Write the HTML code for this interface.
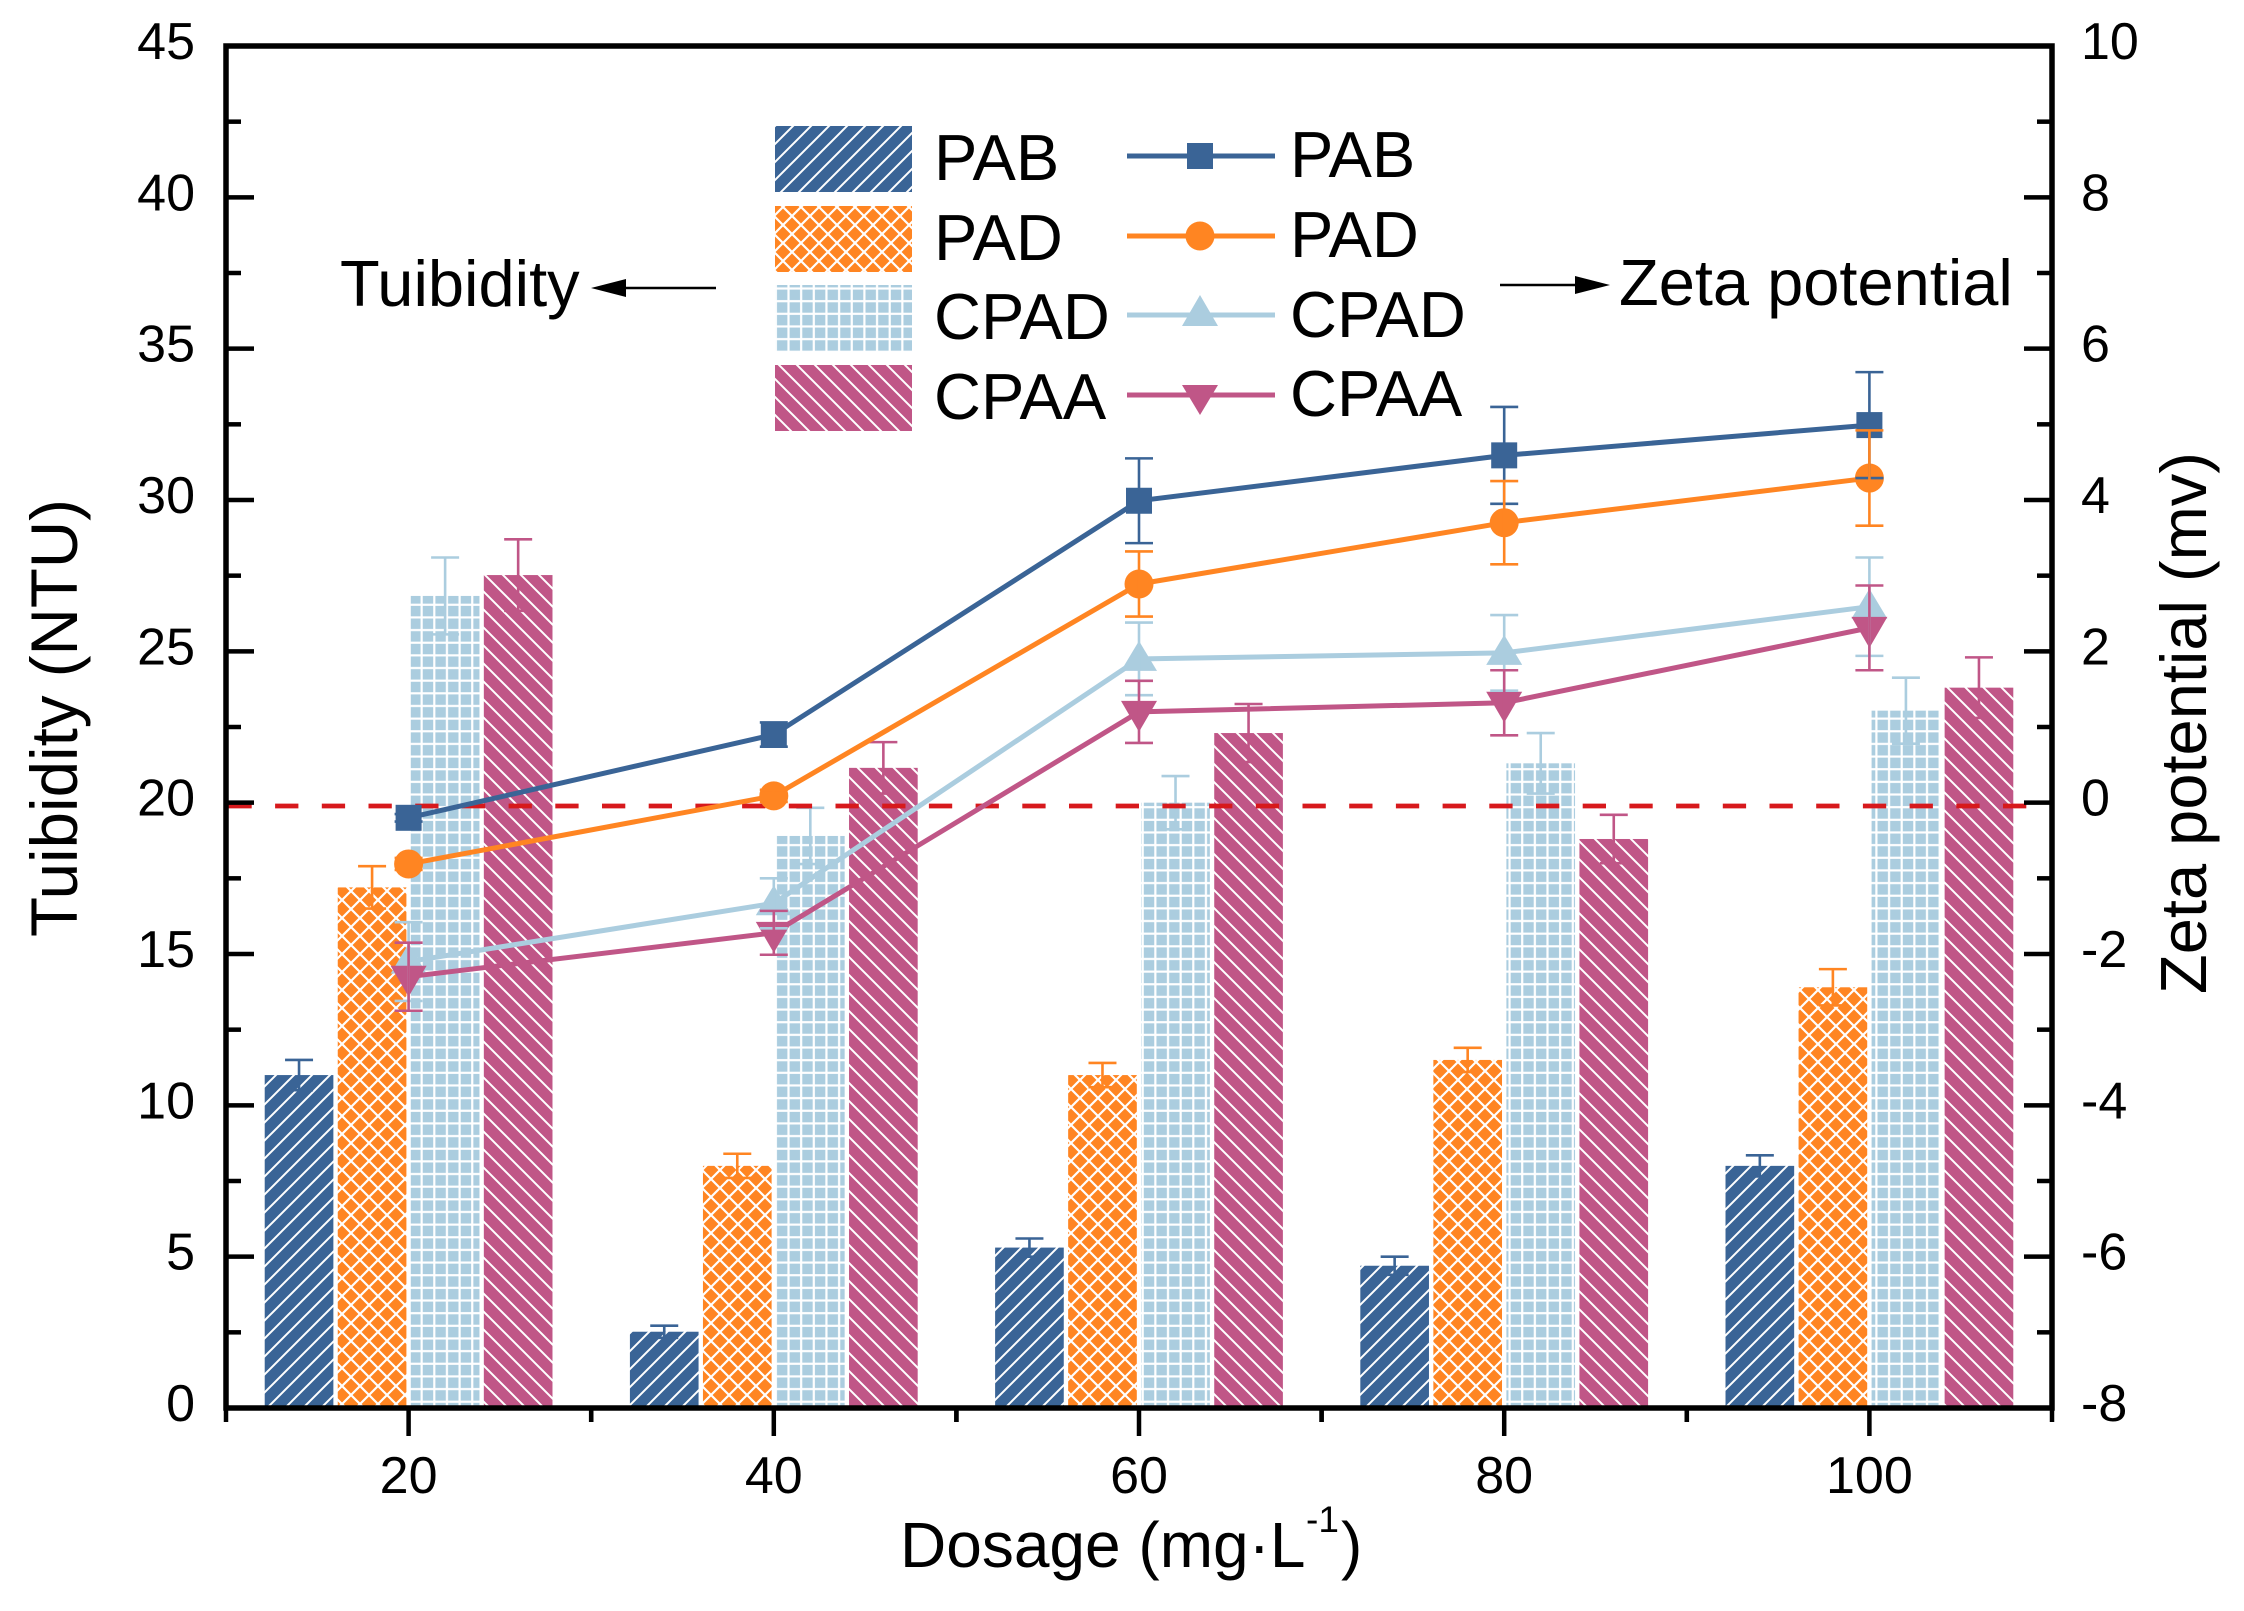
<!DOCTYPE html>
<html lang="en">
<head>
<meta charset="utf-8">
<title>Tuibidity and Zeta potential vs Dosage</title>
<style>
html,body{margin:0;padding:0;background:#fff;}
svg{display:block;font-family:"Liberation Sans",Arial,sans-serif;fill:#000;}
</style>
</head>
<body>
<svg id="chart" xmlns="http://www.w3.org/2000/svg" width="2244" height="1611" viewBox="0 0 2244 1611">
  <defs>
    <pattern id="hatch-pab" patternUnits="userSpaceOnUse" width="18" height="18" patternTransform="translate(1 0)">
      <rect width="18" height="18" fill="#3A6496"/>
      <path d="M-2 20L20 -2M-2 2L2 -2M16 20L20 16" stroke="#fff" stroke-width="2"/>
    </pattern>
    <pattern id="hatch-pad" patternUnits="userSpaceOnUse" width="18" height="18">
      <rect width="18" height="18" fill="#FF8522"/>
      <path d="M-2 20L20 -2M-2 -2L20 20" stroke="#fff" stroke-width="2.2"/>
    </pattern>
    <pattern id="hatch-cpad" patternUnits="userSpaceOnUse" width="12.65" height="12.65" patternTransform="translate(3 9)">
      <rect width="12.65" height="12.65" fill="#ABCDDF"/>
      <path d="M0 1.2H12.65M1.2 0V12.65" stroke="#fff" stroke-width="2.2"/>
    </pattern>
    <pattern id="hatch-cpaa" patternUnits="userSpaceOnUse" width="18" height="18">
      <rect width="18" height="18" fill="#C05687"/>
      <path d="M-2 -2L20 20M16 -2L20 2M-2 16L2 20" stroke="#fff" stroke-width="2"/>
    </pattern>
  </defs>

  <g id="bars"></g>
  <line x1="228.4" x2="2050" y1="806" y2="806" stroke="#D7191C" stroke-width="4.7" stroke-dasharray="23.3 23.4"/>
  <g id="lines"></g>
  <g id="axes"></g>

  <text transform="translate(77 718) rotate(-90)" text-anchor="middle" font-size="65.5">Tuibidity (NTU)</text>
  <text transform="translate(2206 723) rotate(-90)" text-anchor="middle" font-size="65">Zeta potential (mv)</text>
  <text x="900" y="1567" font-size="64">Dosage (mg·L<tspan x="1306" y="1532" font-size="37">-1</tspan><tspan x="1341" y="1567">)</tspan></text>

  <text x="340" y="306" font-size="65">Tuibidity</text>
  <g>
    <line x1="716" x2="620" y1="288" y2="288" stroke="#000" stroke-width="2.5"/>
    <path d="M591 288L626 279V297Z" fill="#000"/>
  </g>
  <text x="1619" y="305" font-size="65">Zeta potential</text>
  <g>
    <line x1="1500" x2="1580" y1="285" y2="285" stroke="#000" stroke-width="2.5"/>
    <path d="M1610 285L1575 276V294Z" fill="#000"/>
  </g>

  <g font-size="65">
    <g>
      <rect x="775" y="126" width="137" height="66" fill="url(#hatch-pab)"/>
      <text x="934" y="180">PAB</text>
    </g>
    <g>
      <rect x="775" y="206" width="137" height="66" fill="url(#hatch-pad)"/>
      <text x="934" y="260">PAD</text>
    </g>
    <g>
      <rect x="775" y="285" width="137" height="67" fill="url(#hatch-cpad)"/>
      <text x="934" y="339">CPAD</text>
    </g>
    <g>
      <rect x="775" y="365" width="137" height="66" fill="url(#hatch-cpaa)"/>
      <text x="934" y="419">CPAA</text>
    </g>
    <g>
      <line x1="1127" x2="1275" y1="156" y2="156" stroke="#3A6496" stroke-width="5"/>
      <rect x="1187" y="143" width="26" height="26" fill="#3A6496"/>
      <text x="1290" y="177">PAB</text>
    </g>
    <g>
      <line x1="1127" x2="1275" y1="236" y2="236" stroke="#FF8522" stroke-width="5"/>
      <circle cx="1200" cy="236" r="14.5" fill="#FF8522"/>
      <text x="1290" y="257">PAD</text>
    </g>
    <g>
      <line x1="1127" x2="1275" y1="315" y2="315" stroke="#ABCDDF" stroke-width="5"/>
      <path d="M1200 295L1218 326H1182Z" fill="#ABCDDF"/>
      <text x="1290" y="337">CPAD</text>
    </g>
    <g>
      <line x1="1127" x2="1275" y1="395" y2="395" stroke="#C05687" stroke-width="5"/>
      <path d="M1200 415L1218 385H1182Z" fill="#C05687"/>
      <text x="1290" y="416">CPAA</text>
    </g>
  </g>
</svg>

<script>
// Chart data
const dosages = [20, 40, 60, 80, 100];
const leftTicks = [0, 5, 10, 15, 20, 25, 30, 35, 40, 45];
const rightTicks = [-8, -6, -4, -2, 0, 2, 4, 6, 8, 10];

const barPAB = [11.0, 2.52, 5.3, 4.7, 8.0];
const barPAD = [17.2, 8.0, 11.0, 11.5, 13.9];
const barCPAD = [26.83, 18.9, 20.0, 21.3, 23.04];
const barCPAA = [27.52, 21.15, 22.3, 18.8, 23.8];

const barErrPAB = [0.5, 0.2, 0.3, 0.3, 0.35];
const barErrPAD = [0.7, 0.4, 0.4, 0.4, 0.6];
const barErrCPAD = [1.27, 0.93, 0.88, 1.0, 1.09];
const barErrCPAA = [1.18, 0.85, 0.96, 0.8, 1.0];

const linePAB = [-0.20, 0.90, 3.99, 4.59, 4.99];
const linePAD = [-0.81, 0.09, 2.89, 3.70, 4.29];
const lineCPAD = [-2.10, -1.33, 1.90, 1.98, 2.59];
const lineCPAA = [-2.30, -1.72, 1.20, 1.32, 2.31];

const lineErrPAB = [0.05, 0.16, 0.56, 0.64, 0.70];
const lineErrPAD = [0.08, 0.08, 0.43, 0.55, 0.63];
const lineErrCPAD = [0.52, 0.33, 0.48, 0.50, 0.65];
const lineErrCPAA = [0.45, 0.29, 0.41, 0.43, 0.56];

// Axis functions
const plotLeft = 226, plotRight = 2052, plotTop = 46, plotBottom = 1408;
function xScale(v) { return plotLeft + (v - 10) / 100 * (plotRight - plotLeft); }
function yLeft(v) { return plotBottom - v / 45 * (plotBottom - plotTop); }
function yRight(v) { return plotBottom - (v + 8) / 18 * (plotBottom - plotTop); }
function dUnits(u) { return u / 100 * (plotRight - plotLeft); }

const NS = 'http://www.w3.org/2000/svg';
function make(tag, attrs, parent) {
  const n = document.createElementNS(NS, tag);
  for (const k in attrs) n.setAttribute(k, attrs[k]);
  parent.appendChild(n);
  return n;
}

// Bars
const barsG = document.getElementById('bars');
const barColors = ['#3A6496', '#FF8522', '#ABCDDF', '#C05687'];
const barFills = ['url(#hatch-pab)', 'url(#hatch-pad)', 'url(#hatch-cpad)', 'url(#hatch-cpaa)'];
const barValues = [barPAB, barPAD, barCPAD, barCPAA];
const barErrors = [barErrPAB, barErrPAD, barErrCPAD, barErrCPAA];
const barOffsets = [-6, -2, 2, 6];
barValues.forEach(function (vals, s) {
  vals.forEach(function (v, i) {
    const cx = xScale(dosages[i] + barOffsets[s]);
    const w = dUnits(3.76);
    const top = yLeft(v);
    const bar = make('rect', { x: cx - w / 2, y: top, width: w, height: yLeft(0) - top - 2, fill: barFills[s] }, barsG);
    
    
    const errTop = yLeft(v + barErrors[s][i]);
    const errLow = yLeft(v - barErrors[s][i]);
    const eb = make('path', {
      d: 'M' + cx + ' ' + errLow + 'V' + errTop + 'M' + (cx - 14) + ' ' + errTop + 'H' + (cx + 14) + 'M' + (cx - 14) + ' ' + errLow + 'H' + (cx + 14),
      stroke: barColors[s], 'stroke-width': 2.6, fill: 'none'
    }, barsG);
    
    
  });
});

// Lines
const linesG = document.getElementById('lines');
const lineValues = [linePAB, linePAD, lineCPAD, lineCPAA];
const lineErrors = [lineErrPAB, lineErrPAD, lineErrCPAD, lineErrCPAA];
lineValues.forEach(function (vals, s) {
  const pts = vals.map(function (v, i) { return xScale(dosages[i]) + ',' + yRight(v); }).join(' ');
  const pl = make('polyline', { points: pts, fill: 'none', stroke: barColors[s], 'stroke-width': 5 }, linesG);
  
  
  vals.forEach(function (v, i) {
    const cx = xScale(dosages[i]);
    const cy = yRight(v);
    let m;
    if (s === 0) {
      m = make('rect', { x: cx - 13, y: cy - 13, width: 26, height: 26, fill: barColors[s] }, linesG);
    } else if (s === 1) {
      m = make('circle', { cx: cx, cy: cy, r: 14.5, fill: barColors[s] }, linesG);
    } else if (s === 2) {
      m = make('path', { d: 'M' + cx + ' ' + (cy - 18) + 'L' + (cx + 18) + ' ' + (cy + 12) + 'H' + (cx - 18) + 'Z', fill: barColors[s] }, linesG);
    } else {
      m = make('path', { d: 'M' + cx + ' ' + (cy + 20) + 'L' + (cx + 18) + ' ' + (cy - 11) + 'H' + (cx - 18) + 'Z', fill: barColors[s] }, linesG);
    }
    
    
  });
});
lineValues.forEach(function (vals, s) {
  vals.forEach(function (v, i) {
    const cx = xScale(dosages[i]);
    const hi = yRight(v + lineErrors[s][i]);
    const lo = yRight(v - lineErrors[s][i]);
    const e = make('path', {
      d: 'M' + cx + ' ' + hi + 'V' + lo + 'M' + (cx - 14) + ' ' + hi + 'H' + (cx + 14) + 'M' + (cx - 14) + ' ' + lo + 'H' + (cx + 14),
      stroke: barColors[s], 'stroke-width': 2.6, fill: 'none'
    }, linesG);
    
    
  });
});

// Axes
const axesG = document.getElementById('axes');
const frame = make('rect', { x: plotLeft, y: plotTop, width: plotRight - plotLeft, height: plotBottom - plotTop, fill: 'none', stroke: '#000', 'stroke-width': 5.5 }, axesG);



function tickLine(x1, y1, x2, y2, name) {
  const t = make('line', { x1: x1, y1: y1, x2: x2, y2: y2, stroke: '#000', 'stroke-width': 4.5 }, axesG);
  
  
}
function label(x, y, anchor, str, name) {
  const t = make('text', { x: x, y: y, 'text-anchor': anchor, 'font-size': 52 }, axesG);
  t.textContent = str;
  
  
}

leftTicks.forEach(function (v, i) {
  const y = yLeft(v);
  tickLine(plotLeft, y, plotLeft + 28, y, 'left-major-tick');
  label(195, y + 13, 'end', String(v), 'left-tick-label');
  if (i < leftTicks.length - 1) {
    const my = yLeft((v + leftTicks[i + 1]) / 2);
    tickLine(plotLeft, my, plotLeft + 15, my, 'left-minor-tick');
  }
});
rightTicks.forEach(function (v, i) {
  const y = yRight(v);
  tickLine(plotRight, y, plotRight - 28, y, 'right-major-tick');
  label(2081, y + 13, 'start', String(v), 'right-tick-label');
  if (i < rightTicks.length - 1) {
    const my = yRight((v + rightTicks[i + 1]) / 2);
    tickLine(plotRight, my, plotRight - 15, my, 'right-minor-tick');
  }
});
dosages.forEach(function (v) {
  const x = xScale(v);
  tickLine(x, plotBottom, x, plotBottom + 28, 'x-major-tick');
  label(x, 1493, 'middle', String(v), 'x-tick-label');
  const m1 = xScale(v - 10);
  tickLine(m1, plotBottom, m1, plotBottom + 14, 'x-minor-tick');
  const m2 = xScale(v + 10);
  tickLine(m2, plotBottom, m2, plotBottom + 14, 'x-minor-tick');
});
</script>
</body>
</html>
